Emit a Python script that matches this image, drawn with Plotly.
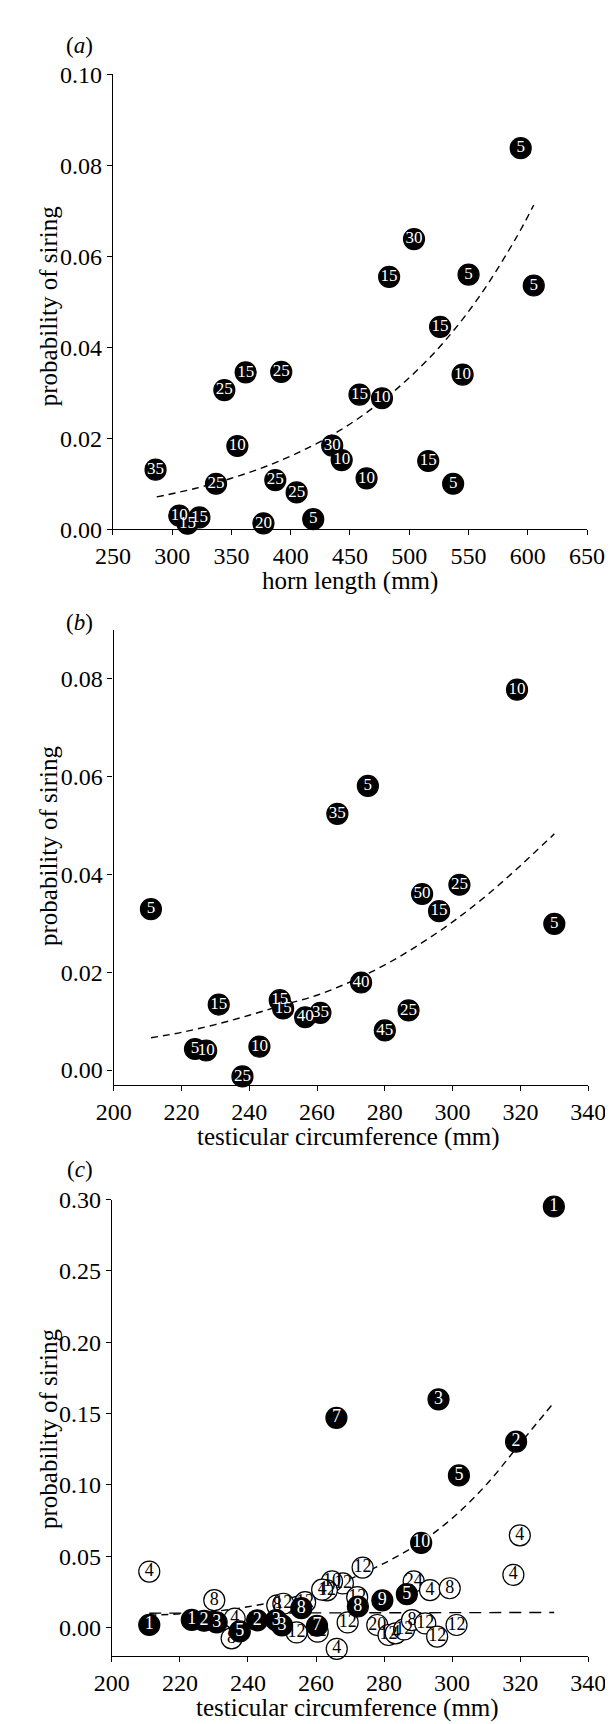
import plotly.graph_objects as go

W, H = 613, 1724
SERIF = "Times New Roman, Liberation Serif, Times, serif"

# ---------------- panel (a): horn length ----------------
horn_x = [313, 594, 504, 483, 550, 605, 526, 545, 362, 392, 344, 458, 477, 355, 435, 443, 516,
          286, 464, 387, 537, 337, 405, 306, 323, 377, 419]
horn_y = [0.0012, 0.0838, 0.0638, 0.0555, 0.0560, 0.0536, 0.0445, 0.0340, 0.0345, 0.0346, 0.0306,
          0.0296, 0.0288, 0.0183, 0.0184, 0.0152, 0.0150, 0.0131, 0.0112, 0.0108, 0.0100, 0.0100,
          0.0081, 0.0030, 0.0026, 0.0013, 0.0022]
horn_n = ["15", "5", "30", "15", "5", "5", "15", "10", "15", "25", "25", "15", "10", "10", "30", "10",
          "15", "35", "10", "25", "5", "25", "25", "10", "15", "20", "5"]
fita_x = [287, 320, 350, 380, 410, 440, 470, 500, 530, 560, 590, 605]
fita_y = [0.0071, 0.0090, 0.0112, 0.0139, 0.0173, 0.0215, 0.0268, 0.0333, 0.0414, 0.0515, 0.0640, 0.0713]

# ---------------- panel (b): testicular circumference ----------------
testis_x = [319, 275, 266, 302, 291, 296, 211, 330, 273, 231, 249, 250, 261, 256.5, 287, 280,
            243, 224, 227.3, 238]
testis_y = [0.0778, 0.0581, 0.0524, 0.0379, 0.0360, 0.0325, 0.0329, 0.0299, 0.0179, 0.0134, 0.0143,
            0.0126, 0.0117, 0.0108, 0.0122, 0.0081, 0.0048, 0.0043, 0.0040, -0.0013]
testis_n = ["10", "5", "35", "25", "50", "15", "5", "5", "40", "15", "15", "15", "35", "40", "25", "45",
            "10", "5", "10", "25"]
fitb_x = [211, 220, 230, 240, 250, 260, 270, 280, 290, 300, 310, 320, 330]
fitb_y = [0.0066, 0.0077, 0.0093, 0.0112, 0.0133, 0.0153, 0.0181, 0.0215, 0.0256, 0.0303, 0.0357,
          0.0418, 0.0483]

# ---------------- panel (c): two groups ----------------
open_x = [319.9, 211, 318, 273.7, 267.9, 264.7, 263.2, 261.8, 288.7, 293.5, 299.3, 230.1, 236.1,
          235.2, 248.6, 250.4, 256.8, 272.1, 254.3, 260.5, 269.3, 266.1, 278, 281.3, 283.4, 285.9,
          288.2, 292.1, 295.6, 301.3]
open_y = [0.0646, 0.0392, 0.0369, 0.0420, 0.0309, 0.0323, 0.0260, 0.0265, 0.0323, 0.0262, 0.0275,
          0.0191, 0.0062, -0.0076, 0.0155, 0.0166, 0.0177, 0.0212, -0.0035, -0.0030, 0.0035, -0.0150,
          0.0017, -0.0053, -0.0041, -0.0014, 0.0051, 0.0028, -0.0064, 0.0017]
open_n = ["4", "4", "4", "12", "12", "10", "12", "4", "24", "4", "8", "8", "4", "8", "8", "12", "12",
          "12", "12", "12", "12", "4", "20", "12", "4", "12", "8", "12", "12", "12"]

sire_x = [329.9, 296, 266, 318.8, 302, 290.9, 286.7, 279.5, 272.3, 255.7, 260.3, 248.3, 250.0,
          242.7, 237.6, 223.5, 227.1, 230.8, 211]
sire_y = [0.2952, 0.160, 0.147, 0.1303, 0.1066, 0.0593, 0.0233, 0.0190, 0.0147, 0.0135, 0.0012,
          0.0051, 0.0015, 0.0050, -0.0028, 0.0053, 0.0047, 0.0036, 0.0018]
sire_n = ["1", "3", "7", "2", "5", "10", "5", "9", "8", "8", "7", "3", "3", "2", "5", "1", "2", "3", "1"]

fitc_x = [211, 220, 230, 240, 250, 260, 270, 280, 290, 300, 310, 320, 330]
fitc_y = [0.0085, 0.0095, 0.0112, 0.0145, 0.0192, 0.0258, 0.0340, 0.0450, 0.0585, 0.0765, 0.1000,
          0.1290, 0.1580]
flat_x = [211, 330]
flat_y = [0.0100, 0.0105]

y_title = "probability of siring"


def xd(a, b):
    return [a / W, b / W]


def yd(top, bottom):
    return [1 - bottom / H, 1 - top / H]


fig = go.Figure()


def fit_line(x, y, xa, ya, dash):
    fig.add_trace(go.Scatter(x=x, y=y, mode="lines", xaxis=xa, yaxis=ya,
                             line=dict(color="black", width=1.4, dash=dash, shape="spline"),
                             hoverinfo="skip", showlegend=False))


def points(x, y, t, xa, ya, filled, tsize):
    fig.add_trace(go.Scatter(
        x=x, y=y, text=t, mode="markers+text", textposition="middle center",
        xaxis=xa, yaxis=ya, cliponaxis=False, showlegend=False,
        marker=dict(size=21, color="black" if filled else "white",
                    line=dict(color="black", width=1.2)),
        textfont=dict(family=SERIF, size=tsize, color="white" if filled else "black")))


fit_line(fita_x, fita_y, "x", "y", "7px,5px")
points(horn_x, horn_y, horn_n, "x", "y", True, 17)

fit_line(fitb_x, fitb_y, "x2", "y2", "7px,5px")
points(testis_x, testis_y, testis_n, "x2", "y2", True, 17)

fit_line(fitc_x, fitc_y, "x3", "y3", "7px,5px")
fit_line(flat_x, flat_y, "x3", "y3", "12px,8px")
points(open_x, open_y, open_n, "x3", "y3", False, 18)
points(sire_x, sire_y, sire_n, "x3", "y3", True, 18)

ax = dict(showline=True, linecolor="black", linewidth=1.3, ticks="outside", ticklen=5,
          tickwidth=1.3, tickcolor="black", showgrid=False, zeroline=False,
          ticklabeloverflow="allow",
          tickfont=dict(family=SERIF, size=24, color="black"))

fig.update_layout(
    width=W, height=H, margin=dict(l=0, r=0, t=0, b=0),
    paper_bgcolor="white", plot_bgcolor="white",
    font=dict(family=SERIF, color="black"),
    xaxis=dict(ax, domain=xd(92.3, 596.1), range=[250, 650], dtick=50, anchor="y"),
    yaxis=dict(ax, domain=yd(54.3, 516), range=[0, 0.10], dtick=0.02, tickformat=".2f", anchor="x"),
    xaxis2=dict(ax, domain=xd(93.1, 597.3), range=[200, 340], dtick=20, anchor="y2"),
    yaxis2=dict(ax, domain=yd(618.3, 1080), range=[-0.003, 0.09],
                tickvals=[0, 0.02, 0.04, 0.06, 0.08], tickformat=".2f", anchor="x2"),
    xaxis3=dict(ax, domain=xd(91.2, 597.3), range=[200, 340], dtick=20, anchor="y3"),
    yaxis3=dict(ax, domain=yd(1196.7, 1660), range=[-0.02, 0.30],
                tickvals=[0, 0.05, 0.10, 0.15, 0.20, 0.25, 0.30], tickformat=".2f", anchor="x3"),
)

anns = []


def ann(text, px, py, size, angle=0):
    anns.append(dict(text=text, x=px / W, y=1 - py / H, xref="paper", yref="paper",
                     xanchor="center", yanchor="middle", showarrow=False, textangle=angle,
                     font=dict(family=SERIF, size=size, color="black")))


ann("(<i>a</i>)", 57, 25, 23)
ann("(<i>b</i>)", 57, 611, 23)
ann("(<i>c</i>)", 57, 1166, 23)
ann(y_title, 24, 290, 25, -90)
ann(y_title, 24, 838, 25, -90)
ann(y_title, 24, 1430, 25, -90)
ann("horn length (mm)", 344, 569, 25)
ann("testicular circumference (mm)", 343, 1133, 25)
ann("testicular circumference (mm)", 342, 1713, 25)
fig.update_layout(annotations=anns)

fig.write_html("out.html")
